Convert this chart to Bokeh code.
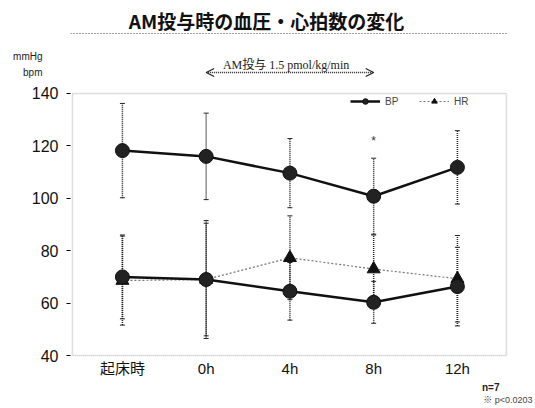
from bokeh.plotting import figure
from bokeh.layouts import column
from bokeh.models import (ColumnDataSource, Whisker, TeeHead, Arrow, OpenHead, Label,
                          Legend, LegendItem, BoxAnnotation, FixedTicker, Span, Range1d,
                          Title, LinearAxis)
from bokeh.embed import file_html
from bokeh.resources import INLINE

# ---- data ----
categories = ["起床時", "0h", "4h", "8h", "12h"]
bp_sys = [118.2, 116.0, 109.6, 100.8, 111.8]
bp_sys_sd = [18.0, 16.5, 13.2, 14.5, 14.0]
bp_dia = [70.0, 69.0, 64.5, 60.3, 66.3]
bp_dia_sd = [16.0, 21.5, 11.0, 8.0, 15.0]
hr = [68.6, 69.0, 77.3, 73.0, 69.3]
hr_sd = [17.0, 22.5, 16.0, 13.0, 16.5]
y_ticks = [40, 60, 80, 100, 120, 140]
infusion_start, infusion_end = 1, 3  # 0h .. 8h
sig_index = 3  # 8h

xs = list(range(len(categories)))
CJK = "Liberation Sans, Noto Sans CJK JP"
X0, X1 = -0.62, 4.61
LEFT, RIGHT = 70, 27

# ---- header strip (title, units, infusion arrow) ----
HEAD_H = 82
pt = figure(width=535, height=HEAD_H, x_range=Range1d(X0, X1),
            y_range=Range1d(HEAD_H, 0),
            output_backend="svg", toolbar_location=None,
            min_border_left=LEFT, min_border_right=RIGHT, min_border_top=0, min_border_bottom=0,
            x_axis_location=None, y_axis_location=None)
pt.grid.visible = False
pt.outline_line_color = None
pt.add_layout(Label(x=266 - LEFT, y=HEAD_H - 20, x_units="screen", y_units="screen",
                    text="AM投与時の血圧・心拍数の変化",
                    text_font="Noto Sans CJK JP", text_font_style="bold",
                    text_font_size="19px", text_align="center", text_baseline="middle",
                    text_color="#111111"))
pt.add_layout(Span(location=33, dimension="width", line_color="#444444",
                   line_dash="1 2", line_width=1))
# unit labels as left-axis tick labels of the header strip
unit_axis = LinearAxis(ticker=FixedTicker(ticks=[56, 72]),
                       major_label_overrides={56: "mmHg", 72: "bpm"},
                       axis_line_color=None, major_tick_line_color=None,
                       major_tick_in=0, major_tick_out=0, minor_tick_line_color=None,
                       major_label_standoff=28, major_label_text_font="Liberation Sans",
                       major_label_text_font_size="10px", major_label_text_color="#222222")
pt.add_layout(unit_axis, "left")
pt.add_layout(Arrow(x_start=infusion_start, x_end=infusion_end, y_start=72, y_end=72,
                    line_color="#222222", line_dash="1 1", line_width=1.5,
                    start=OpenHead(size=8, line_color="#222222", line_width=1.2),
                    end=OpenHead(size=8, line_color="#222222", line_width=1.2)))
pt.add_layout(Label(x=infusion_start + 0.2, y=64, text="AM投与   1.5 pmol/kg/min",
                    text_font="Liberation Serif, Noto Sans CJK JP", text_font_size="12px",
                    text_baseline="middle", text_color="#222222"))

# ---- main chart ----
p = figure(width=535, height=408 - HEAD_H, x_range=Range1d(X0, X1),
           y_range=Range1d(39.24, 142.67), output_backend="svg",
           toolbar_location=None, min_border_left=LEFT, min_border_right=RIGHT,
           min_border_top=4, min_border_bottom=51)
p.grid.visible = False
p.outline_line_color = None

# dotted frame box
p.add_layout(BoxAnnotation(left=-0.597, right=4.585, bottom=40, top=140,
                           fill_alpha=0, line_color="#222222", line_dash="1 1",
                           line_width=1.5))

# axes
p.yaxis.ticker = FixedTicker(ticks=y_ticks)
p.yaxis.axis_line_color = None
p.yaxis.major_tick_in = 0
p.yaxis.major_tick_out = 4
p.yaxis.minor_tick_line_color = None
p.yaxis.major_label_text_font = "Liberation Sans"
p.yaxis.major_label_text_font_size = "16px"
p.yaxis.major_label_text_color = "#111111"
p.yaxis.major_label_standoff = 8

p.xaxis.ticker = FixedTicker(ticks=xs)
p.xaxis.major_label_overrides = {i: c for i, c in enumerate(categories)}
p.xaxis.axis_line_color = None
p.xaxis.major_tick_line_color = None
p.xaxis.major_tick_out = 0
p.xaxis.major_tick_in = 0
p.xaxis.minor_tick_line_color = None
p.xaxis.major_label_text_font = CJK
p.xaxis.major_label_text_font_size = "15px"
p.xaxis.major_label_text_color = "#111111"
p.xaxis.major_label_standoff = 2

src = ColumnDataSource(dict(
    x=xs, sys=bp_sys, dia=bp_dia, hr=hr,
    sys_lo=[m - s for m, s in zip(bp_sys, bp_sys_sd)],
    sys_hi=[m + s for m, s in zip(bp_sys, bp_sys_sd)],
    dia_lo=[m - s for m, s in zip(bp_dia, bp_dia_sd)],
    dia_hi=[m + s for m, s in zip(bp_dia, bp_dia_sd)],
    hr_lo=[m - s for m, s in zip(hr, hr_sd)],
    hr_hi=[m + s for m, s in zip(hr, hr_sd)],
))

for lo, hi in [("sys_lo", "sys_hi"), ("dia_lo", "dia_hi"), ("hr_lo", "hr_hi")]:
    w = Whisker(source=src, base="x", lower=lo, upper=hi, dimension="height",
                line_color="#222222", line_dash="1 1", line_width=1.5,
                lower_head=TeeHead(size=5, line_color="#222222", line_width=1),
                upper_head=TeeHead(size=5, line_color="#222222", line_width=1))
    p.add_layout(w)

# HR (dotted line, triangles)
hr_line = p.line("x", "hr", source=src, line_color="#777777", line_dash="2 2", line_width=1.2)
hr_pts = p.scatter("x", "hr", source=src, marker="triangle", size=13,
                   fill_color="#111111", line_color="#111111")

# BP systolic & diastolic (solid, circles)
sys_line = p.line("x", "sys", source=src, line_color="#111111", line_width=2.5)
sys_pts = p.scatter("x", "sys", source=src, marker="circle", size=14,
                    fill_color="#222222", line_color="#111111")
dia_line = p.line("x", "dia", source=src, line_color="#111111", line_width=2.5)
dia_pts = p.scatter("x", "dia", source=src, marker="circle", size=14,
                    fill_color="#222222", line_color="#111111")

legend = Legend(items=[LegendItem(label="BP", renderers=[sys_line, sys_pts]),
                       LegendItem(label="HR", renderers=[hr_line, hr_pts])],
                orientation="horizontal", location=(280, 249),
                background_fill_alpha=0, border_line_color=None,
                label_text_font="Liberation Sans", label_text_font_size="10px",
                glyph_width=30, glyph_height=14, spacing=14, padding=2, margin=0)
p.add_layout(legend, "center")

# significance mark
p.add_layout(Label(x=sig_index, y=bp_sys[sig_index] + bp_sys_sd[sig_index] + 6.5,
                   text="*", text_font_size="12px", text_align="center",
                   text_baseline="middle", text_color="#333333"))

# notes below
p.add_layout(Title(text="n=7", align="right", offset=9, standoff=0,
                   text_font="Liberation Sans", text_font_size="10px",
                   text_font_style="bold", text_color="#222222"), "below")
p.add_layout(Title(text="※ p<0.0203", align="right", offset=-24, standoff=0,
                   text_font="Liberation Sans, Noto Sans CJK JP", text_font_size="9px",
                   text_font_style="normal", text_color="#444444"), "below")

layout = column(pt, p, spacing=0)
open("out.html", "w").write(file_html(layout, INLINE))
